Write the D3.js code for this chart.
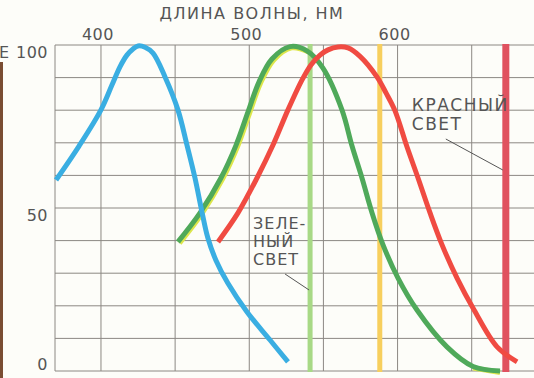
<!DOCTYPE html>
<html><head><meta charset="utf-8">
<script src="https://cdn.jsdelivr.net/npm/d3@7/dist/d3.min.js"></script>
<style>
html,body{margin:0;padding:0;background:#fdfdf9;}
svg{display:block;}
text{font-family:"DejaVu Sans",sans-serif;fill:#555;}
</style></head><body>
<svg id="chart" width="534" height="378"></svg>
<script>
// ---- data ----
const wavelengthTicks = [400, 500, 600];
const gridWavelengths = [400, 450, 500, 550, 600, 650];
const valueTicks = [0, 50, 100];
const gridValues = [0, 10, 20, 30, 40, 50, 60, 70, 80, 90, 100];

const blueWl  = [369.7, 385.2, 400.0, 407.4, 412.8, 417.5, 421.6, 425.0, 429.7, 435.1, 443.2, 451.9, 458.0, 463.4, 468.1, 472.1, 477.5, 485.6, 498.5, 514.0, 526.1];
const blueVal = [58.6, 69.0, 80.1, 87.7, 93.3, 96.9, 98.8, 99.7, 99.3, 97.5, 90.2, 80.1, 69.3, 59.2, 48.8, 40.8, 34.0, 26.9, 18.1, 9.5, 2.8];

const greenWl  = [451.9, 466.8, 480.9, 491.1, 499.1, 506.6, 515.3, 527.5, 538.9, 549.7, 562.5, 569.3, 576.0, 582.8, 590.2, 600.3, 613.1, 633.3, 650.9, 669.1];
const greenVal = [39.6, 48.5, 59.2, 69.3, 79.4, 88.7, 95.7, 99.5, 98.2, 92.9, 80.1, 69.0, 59.2, 48.5, 38.7, 28.5, 18.7, 7.4, 1.4, 0];

const redWl  = [478.9, 492.4, 505.2, 516.0, 526.1, 535.6, 541.6, 547.7, 553.1, 559.8, 566.6, 574.7, 586.1, 592.2, 598.3, 606.4, 613.8, 621.9, 630.0, 640.1, 651.6, 667.1, 680.6];
const redVal = [39.6, 48.5, 59.2, 69.3, 80.1, 89.3, 93.9, 96.9, 98.5, 99.4, 99.1, 96.5, 90.2, 85.3, 79.8, 68.7, 59.2, 48.5, 38.7, 28.5, 18.7, 7.4, 2.8];

const lightWl = [541, 588, 673];
const lightColors = ["#a8d986", "#f7cf5e", "#e0525f"];
const lightWidths = [5, 5, 7];

const titleText = "ДЛИНА ВОЛНЫ, НМ";
const greenLabel = ["ЗЕЛЕ-", "НЫЙ", "СВЕТ"];
const redLabel = ["КРАСНЫЙ", "СВЕТ"];

// ---- drawing ----
const svg = d3.select("#chart");
const x = d3.scaleLinear().domain([369, 692]).range([55, 534]);
const y = d3.scaleLinear().domain([0, 100]).range([371, 45]);

// cropped neighbour remnant on the left edge
svg.append("rect").attr("x", 0).attr("y", 62).attr("width", 3).attr("height", 316).attr("fill", "#7a4d33");
svg.append("text").attr("x", 9).attr("y", 58).attr("text-anchor", "end").attr("font-size", 16).text("Е");

// grid
const grid = svg.append("g").attr("stroke", "#8c8883").attr("stroke-width", 1);
grid.selectAll("line.v").data(gridWavelengths).join("line").attr("class", "v")
  .attr("x1", d => x(d)).attr("x2", d => x(d)).attr("y1", y(100)).attr("y2", y(0));
grid.selectAll("line.h").data(gridValues).join("line").attr("class", "h")
  .attr("x1", x(369)).attr("x2", 534).attr("y1", d => y(d)).attr("y2", d => y(d));
grid.append("line").attr("x1", x(369)).attr("x2", x(369)).attr("y1", y(100)).attr("y2", y(0));

// light bars
svg.selectAll("rect.light").data(lightWl).join("rect").attr("class", "light")
  .attr("x", (d, i) => x(d) - lightWidths[i] / 2).attr("width", (d, i) => lightWidths[i])
  .attr("y", y(100) - 1).attr("height", y(0) - y(100) + 2)
  .attr("fill", (d, i) => lightColors[i]);

// curves
const line = d3.line().x(d => x(d[0])).y(d => y(d[1])).curve(d3.curveCatmullRom.alpha(0.5));
const zip = (a, b) => a.map((v, i) => [v, b[i]]);
const greenPts = zip(greenWl, greenVal);
const curves = svg.append("g").attr("fill", "none").attr("stroke-width", 5).attr("stroke-linecap", "butt");
curves.append("path").attr("d", line(greenPts.filter(d => d[0] <= 540))).attr("stroke", "#dde64c")
  .attr("transform", "translate(1.6,1.2)");
curves.append("path").attr("d", line(greenPts.filter(d => d[0] >= 640))).attr("stroke", "#dde64c")
  .attr("transform", "translate(0,1.5)");
curves.append("path").attr("d", line(greenPts)).attr("stroke", "#4fa95a");
curves.append("path").attr("d", line(zip(redWl, redVal))).attr("stroke", "#f04b42");
curves.append("path").attr("d", line(zip(blueWl, blueVal))).attr("stroke", "#3aaee2");

// axis labels
svg.append("text").attr("x", 252).attr("y", 19).attr("text-anchor", "middle")
  .attr("font-size", 16).attr("letter-spacing", 1.5).text(titleText);
svg.selectAll("text.xt").data(wavelengthTicks).join("text").attr("class", "xt")
  .attr("x", d => x(d) - 3).attr("y", 40).attr("text-anchor", "middle")
  .attr("font-size", 16).attr("letter-spacing", 0.5).text(d => d);
svg.selectAll("text.yt").data(valueTicks).join("text").attr("class", "yt")
  .attr("x", 48).attr("y", d => Math.min(y(d) + 13, y(0) - 1)).attr("text-anchor", "end")
  .attr("font-size", 16).attr("letter-spacing", 0.5).text(d => d);

// annotations
const gx = x(lightWl[0]);
const gText = svg.append("text").attr("font-size", 16).attr("letter-spacing", 1).attr("fill", "#4a4a4a");
greenLabel.forEach((s, i) => gText.append("tspan").attr("x", gx - 57).attr("y", 229 + i * 18).text(s));
svg.append("line").attr("x1", gx - 25).attr("y1", 274).attr("x2", gx - 1).attr("y2", 290)
  .attr("stroke", "#555").attr("stroke-width", 1);

const rx = x(lightWl[2]);
const rText = svg.append("text").attr("font-size", 17).attr("letter-spacing", 1.5).attr("fill", "#4a4a4a");
redLabel.forEach((s, i) => rText.append("tspan").attr("x", rx - 94).attr("y", 111 + i * 19).text(s));
svg.append("line").attr("x1", rx - 60).attr("y1", 139).attr("x2", rx - 3).attr("y2", 170)
  .attr("stroke", "#555").attr("stroke-width", 1);
</script>
</body></html>
